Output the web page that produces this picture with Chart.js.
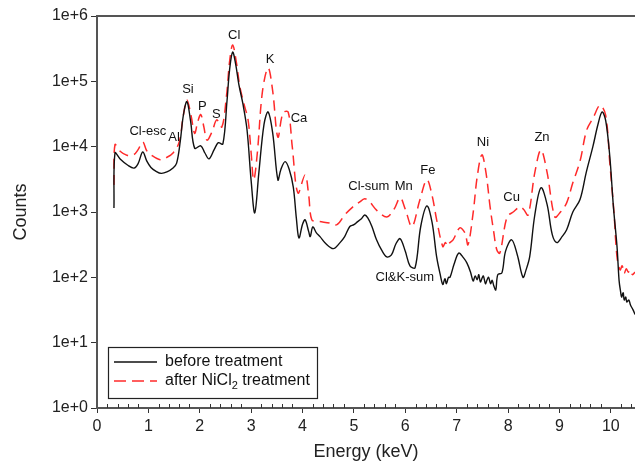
<!DOCTYPE html>
<html>
<head>
<meta charset="utf-8">
<script src="https://cdn.jsdelivr.net/npm/chart.js@4/dist/chart.umd.min.js"></script>
<style>
  html, body { margin: 0; padding: 0; background: #fff; }
  #wrap { width: 635px; height: 463px; position: relative; }
</style>
</head>
<body>
<div id="wrap"><canvas id="spectrumChart"></canvas></div>
<script>
// --- données ---
const energyBefore = [0.33, 0.35, 0.45, 0.6, 0.72, 0.8, 0.89, 0.97, 1.05, 1.15, 1.25, 1.36, 1.48, 1.55, 1.62, 1.68, 1.75, 1.82, 1.9, 2.02,
  2.1, 2.18, 2.28, 2.36, 2.45, 2.53, 2.58, 2.64, 2.7, 2.76, 2.84, 2.92, 3.0, 3.07, 3.15, 3.25, 3.33, 3.42, 3.52, 3.58,
  3.66, 3.74, 3.82, 3.88, 3.93, 4.0, 4.05, 4.12, 4.15, 4.2, 4.27, 4.34, 4.45, 4.6, 4.73, 4.82, 4.92, 5.0, 5.06, 5.14, 5.21, 5.27, 5.35,
  5.44, 5.54, 5.64, 5.73, 5.82, 5.9, 6.0, 6.09, 6.19, 6.3, 6.42, 6.52, 6.61, 6.68, 6.73, 6.77, 6.8, 6.84, 6.87, 6.95, 7.04, 7.13,
  7.2, 7.27, 7.32, 7.36, 7.4, 7.43, 7.46, 7.5, 7.52, 7.56, 7.59, 7.62, 7.66, 7.69, 7.72, 7.76, 7.8, 7.88, 7.95, 8.07, 8.18, 8.29, 8.35, 8.42, 8.52, 8.64,
  8.76, 8.86, 8.95, 9.05, 9.14, 9.26, 9.4, 9.52, 9.65, 9.75, 9.83, 9.9, 9.98, 10.05, 10.12, 10.16, 10.19, 10.21, 10.24, 10.26, 10.29, 10.31, 10.35, 10.38, 10.43, 10.47];
const countsBefore = [1150, 8000, 6500, 5200, 4700, 5500, 8300, 6000, 4800, 4200, 3900, 4100, 4700, 5600, 12000, 30000, 49000, 25000, 9500, 10300,
  8000, 6500, 9000, 11500, 11000, 50000, 150000, 280000, 180000, 90000, 45000, 18000, 3000, 970, 4000, 22000, 34000, 16000, 3100, 4500,
  5900, 4500, 2400, 800, 400, 650, 760, 500, 420, 590, 480, 420, 330, 275, 340, 420, 600, 640, 700, 780, 900, 810, 600,
  375, 260, 205, 220, 330, 390, 250, 150, 140, 600, 1240, 700, 205, 110, 78, 95, 80, 100, 100, 160, 235, 200,
  165, 120, 88, 105, 92, 110, 85, 100, 105, 80, 91, 100, 80, 90, 75, 64, 110, 117, 250, 375, 220, 100, 130, 205, 900, 2350,
  1300, 450, 340, 420, 535, 1000, 1550, 4000, 10000, 22000, 34000, 25000, 7000, 1200, 295, 90, 60, 50, 58, 45, 50, 42, 45, 38, 32, 27];

const energyAfter = [0.33, 0.35, 0.45, 0.58, 0.72, 0.8, 0.89, 0.97, 1.05, 1.23, 1.35, 1.48, 1.6, 1.68, 1.75, 1.83, 1.9, 1.96, 2.02, 2.08,
  2.14, 2.24, 2.33, 2.43, 2.52, 2.58, 2.64, 2.71, 2.78, 2.86, 2.94, 3.0, 3.05, 3.12, 3.22, 3.33, 3.42, 3.52, 3.62, 3.72,
  3.8, 3.91, 4.05, 4.12, 4.18, 4.3, 4.53, 4.67, 4.82, 4.98, 5.1, 5.21, 5.3, 5.44, 5.64, 5.78, 5.9, 6.0, 6.13, 6.28,
  6.42, 6.52, 6.61, 6.73, 6.78, 6.82, 6.85, 6.93, 7.06, 7.16, 7.22, 7.32, 7.4, 7.49, 7.57, 7.65, 7.72, 7.78, 7.84, 7.98, 8.1, 8.23,
  8.3, 8.39, 8.52, 8.64, 8.76, 8.91, 9.02, 9.14, 9.26, 9.4, 9.53, 9.66, 9.79, 9.9, 9.98, 10.06, 10.12, 10.18, 10.22, 10.26, 10.3, 10.34, 10.38, 10.42, 10.47];
const countsAfter = [2600, 10700, 8500, 7400, 7600, 9000, 11800, 8600, 7500, 6300, 6800, 8000, 11800, 30000, 52000, 30000, 16000, 24000, 31000, 20000,
  12600, 17000, 25700, 20000, 60000, 200000, 360000, 200000, 83000, 45000, 25700, 8000, 3100, 8000, 70000, 160000, 70000, 14000, 33000, 34000,
  10000, 1950, 3700, 1800, 760, 720, 680, 640, 900, 1200, 1400, 1590, 1450, 1070, 840, 1100, 1650, 1100, 600, 1500,
  3100, 1800, 760, 295, 340, 300, 330, 375, 570, 480, 315, 970, 3500, 7500, 4000, 1200, 500, 265, 235, 840, 1000, 1200,
  1100, 900, 4000, 8900, 4000, 840, 1000, 1380, 2800, 6000, 18000, 28000, 43000, 30000, 5600, 1000, 205, 130, 150, 115, 135, 120, 130, 110, 120, 110];

// étiquettes des pics (coordonnées en keV / coups)
const peakNames = ['Cl-esc', 'Al', 'Si', 'P', 'S', 'Cl', 'K', 'Ca', 'Cl-sum', 'Mn', 'Fe', 'Ni', 'Cu', 'Zn', 'Cl&K-sum'];
const peakEnergy = [0.99, 1.5, 1.77, 2.05, 2.32, 2.67, 3.37, 3.93, 5.29, 5.97, 6.44, 7.51, 8.07, 8.66, 5.99];
const peakCounts = [17000, 14000, 74000, 41000, 31000, 500000, 220000, 27500, 2500, 2500, 4400, 11700, 1660, 14000, 100];

const xTicks = [0, 1, 2, 3, 4, 5, 6, 7, 8, 9, 10];
const yTicks = [1, 10, 100, 1000, 10000, 100000, 1000000];
const seriesNames = ['before treatment', 'after NiCl₂ treatment'];

const pairs = (xs, ys) => xs.map((x, i) => ({ x: x, y: ys[i] }));

// --- extras dessinés sur le canvas ---
const framePlugin = {
  id: 'frame',
  afterDraw(chart) {
    const { ctx, chartArea: a, scales } = chart;
    ctx.save();
    // ligne du haut
    ctx.strokeStyle = '#555';
    ctx.lineWidth = 2;
    ctx.beginPath();
    ctx.moveTo(a.left - 1, a.top);
    ctx.lineTo(a.right, a.top);
    ctx.stroke();
    // petites graduations x (vers l'intérieur)
    ctx.lineWidth = 1;
    ctx.strokeStyle = '#333';
    for (let i = 1; i <= 52; i++) {
      if (i % 5 === 0) continue;
      const px = Math.round(scales.x.getPixelForValue(i * 0.2)) + 0.5;
      if (px > a.right) break;
      ctx.beginPath();
      ctx.moveTo(px, a.bottom);
      ctx.lineTo(px, a.bottom - 4);
      ctx.stroke();
    }
    // noms des pics
    ctx.fillStyle = '#111';
    ctx.font = '13px "Liberation Sans", Arial, sans-serif';
    ctx.textAlign = 'center';
    ctx.textBaseline = 'middle';
    peakNames.forEach((name, i) => {
      ctx.fillText(name, scales.x.getPixelForValue(peakEnergy[i]), scales.y.getPixelForValue(peakCounts[i]));
    });
    // légende
    const lx = a.left + 11, ly = a.bottom - 61, lw = 209, lh = 51;
    ctx.fillStyle = '#fff';
    ctx.fillRect(lx, ly, lw, lh);
    ctx.strokeStyle = '#222';
    ctx.lineWidth = 1.2;
    ctx.strokeRect(lx + 0.5, ly + 0.5, lw, lh);
    const rows = [ly + 15, ly + 34];
    ctx.lineWidth = 1.3;
    ctx.strokeStyle = '#111';
    ctx.beginPath(); ctx.moveTo(lx + 6, rows[0]); ctx.lineTo(lx + 49, rows[0]); ctx.stroke();
    ctx.strokeStyle = '#ff2a2a';
    ctx.setLineDash([12, 6]);
    ctx.beginPath(); ctx.moveTo(lx + 6, rows[1]); ctx.lineTo(lx + 49, rows[1]); ctx.stroke();
    ctx.setLineDash([]);
    ctx.fillStyle = '#111';
    ctx.textAlign = 'left';
    ctx.font = '16px "Liberation Sans", Arial, sans-serif';
    ctx.fillText(seriesNames[0], lx + 57, rows[0]);
    // indice du 2 dans NiCl2
    const head = 'after NiCl';
    ctx.fillText(head, lx + 57, rows[1]);
    let w = ctx.measureText(head).width;
    ctx.font = '11px "Liberation Sans", Arial, sans-serif';
    ctx.fillText('2', lx + 57 + w, rows[1] + 5);
    w += ctx.measureText('2').width;
    ctx.font = '16px "Liberation Sans", Arial, sans-serif';
    ctx.fillText(' treatment', lx + 57 + w, rows[1]);
    ctx.restore();
  }
};

const ctx = document.getElementById('spectrumChart').getContext('2d');
const font = { family: '"Liberation Sans", Arial, sans-serif', size: 16 };

new Chart(ctx, {
  type: 'line',
  data: {
    datasets: [
      {
        label: seriesNames[0],
        data: pairs(energyBefore, countsBefore),
        borderColor: '#111',
        borderWidth: 1.4,
        pointRadius: 0,
        tension: 0.35,
        fill: false
      },
      {
        label: seriesNames[1],
        data: pairs(energyAfter, countsAfter),
        borderColor: '#ff2a2a',
        borderWidth: 1.5,
        borderDash: [10, 6],
        pointRadius: 0,
        tension: 0.35,
        fill: false
      }
    ]
  },
  options: {
    responsive: true,
    maintainAspectRatio: false,
    animation: false,
    layout: { padding: { top: 16, right: 0, left: 0, bottom: 0 } },
    plugins: { legend: { display: false }, tooltip: { enabled: false } },
    scales: {
      x: {
        type: 'linear',
        min: 0,
        max: 10.47,
        afterBuildTicks: s => { s.ticks = xTicks.map(v => ({ value: v })); },
        afterFit: s => { s.height = 55; },
        ticks: { font: font, color: '#222', padding: 4, maxRotation: 0, callback: v => String(v) },
        grid: { drawOnChartArea: false, tickLength: 5, color: '#333' },
        border: { color: '#555', width: 2 },
        title: { display: true, text: 'Energy (keV)', font: { family: font.family, size: 18 }, color: '#222', padding: { top: 2, bottom: 0 } }
      },
      y: {
        type: 'logarithmic',
        min: 1,
        max: 1000000,
        afterBuildTicks: s => { s.ticks = yTicks.map(v => ({ value: v })); },
        afterFit: s => { s.width = 97; },
        ticks: { font: font, color: '#222', padding: 3, callback: v => '1e+' + Math.round(Math.log10(v)) },
        grid: { drawOnChartArea: false, tickLength: 6, color: '#333' },
        border: { color: '#555', width: 2 },
        title: { display: true, text: 'Counts', font: { family: font.family, size: 18 }, color: '#222', padding: { top: 10, bottom: 0 } }
      }
    }
  },
  plugins: [framePlugin]
});
</script>
</body>
</html>
